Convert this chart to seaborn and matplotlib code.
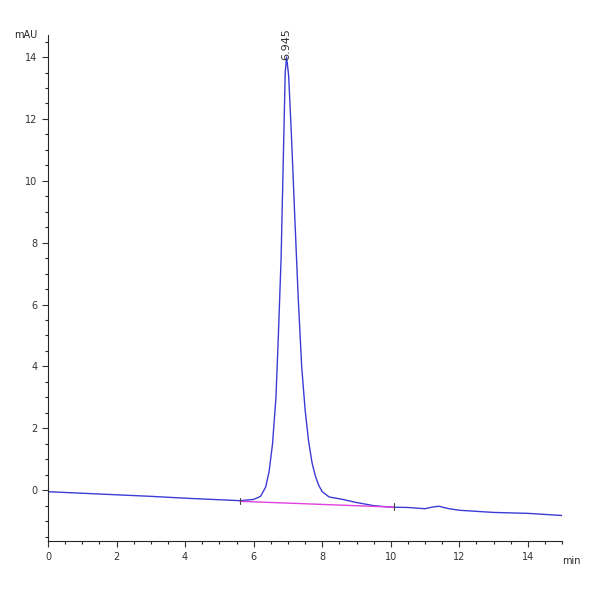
import matplotlib
matplotlib.use("Agg")
import matplotlib.pyplot as plt
import numpy as np
import pandas as pd
import seaborn as sns
from matplotlib.ticker import MultipleLocator

# chromatogram trace
time_min = [0, 1, 2, 3, 4, 5, 5.6, 6.0, 6.2, 6.35, 6.45, 6.55, 6.65, 6.72, 6.8, 6.87,
            6.92, 6.96, 7.02, 7.1, 7.2, 7.3, 7.4, 7.5, 7.6, 7.7, 7.8, 7.9, 8.0, 8.2,
            8.6, 9.0, 9.5, 10.0, 10.5, 11.0, 11.2, 11.4, 11.7, 12.0, 13.0, 14.0, 15.0]
signal_mau = [-0.05, -0.1, -0.15, -0.2, -0.26, -0.31, -0.34, -0.3, -0.2, 0.1, 0.6, 1.5,
              3.0, 5.0, 7.5, 11.0, 13.5, 14.0, 13.4, 11.5, 8.8, 6.2, 4.0, 2.6, 1.6, 0.9,
              0.45, 0.15, -0.05, -0.22, -0.3, -0.4, -0.5, -0.55, -0.56, -0.6, -0.55,
              -0.52, -0.6, -0.65, -0.72, -0.75, -0.82]
baseline_t = [5.6, 10.1]
baseline_y = [-0.36, -0.55]
peak_label = "6.945"

sns.set_style("ticks")
fig = plt.figure(figsize=(6, 6), dpi=100)
ax = fig.add_axes([0.08, 0.098, 0.857, 0.843])

df = pd.DataFrame({"t": time_min, "y": signal_mau})
sns.lineplot(data=df, x="t", y="y", ax=ax, color="#3b3bd6", lw=1)
ax.plot(baseline_t, baseline_y, color="#e040e0", lw=1)
for t, y in zip(baseline_t, baseline_y):
    ax.plot([t, t], [y - 0.08, y + 0.12], color="#444", lw=0.8)

ax.text(6.945, 13.9, peak_label, rotation=90, ha="center", va="bottom", fontsize=8, color="#333")

ax.set_xlim(0, 15)
ax.set_ylim(-1.65, 14.7)
ax.xaxis.set_major_locator(MultipleLocator(2))
ax.xaxis.set_minor_locator(MultipleLocator(0.5))
ax.yaxis.set_major_locator(MultipleLocator(2))
ax.yaxis.set_minor_locator(MultipleLocator(0.5))
ax.tick_params(labelsize=7, length=4, width=0.8, colors="#333")
ax.tick_params(which="minor", length=2, width=0.8)
sns.despine(ax=ax)
ax.set_xlabel("")
ax.set_ylabel("")
ax.text(-0.02, 1.0, "mAU", transform=ax.transAxes, ha="right", va="center", fontsize=7)
ax.text(1.0, -0.03, "min", transform=ax.transAxes, ha="left", va="top", fontsize=7)

fig.savefig("out.png", dpi=100)
